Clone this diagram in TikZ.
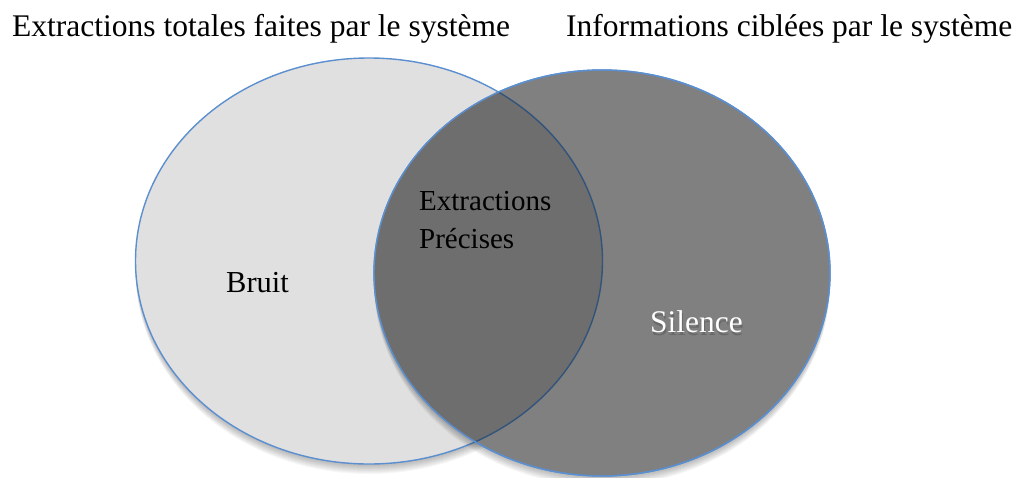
\documentclass[tikz,border=0pt]{standalone}
\usepackage{fontspec}
\setmainfont{Liberation Serif}
\usetikzlibrary{shapes.geometric, positioning}
\definecolor{cLine}{RGB}{91,143,208}
\definecolor{cLineDk}{RGB}{50,84,124}
\definecolor{cLeft}{RGB}{224,224,224}
\definecolor{cRight}{RGB}{128,128,128}
\definecolor{cBoth}{RGB}{110,110,110}

\begin{document}
\begin{tikzpicture}[x=1pt, y=-1pt,
    set/.style={ellipse, draw=cLine, line width=1.4pt, inner sep=0pt},
    lbl/.style={inner sep=0pt, anchor=base west}]
    \useasboundingbox (0,0) rectangle (1022,477);

    % --- Left set: extractions ---
    \foreach \d in {1,...,10}
        \fill[black, opacity=0.03] (369, 261+\d) ellipse [x radius=233.5pt, y radius=203pt];
    \node[set, fill=cLeft, minimum width=467pt, minimum height=406pt] (lft) at (369, 261) {};

    % --- Right set: targeted information ---
    \foreach \d in {1,...,10}
        \fill[black, opacity=0.03] (602, 273+\d) ellipse [x radius=228pt, y radius=203pt];
    \node[set, fill=cRight, minimum width=456pt, minimum height=406pt] (rgt) at (602, 273) {};

    % Overlap, darker
    \begin{scope}
        \clip (lft.center) ellipse [x radius=233.5pt, y radius=203pt];
        \fill[cBoth] (rgt.center) ellipse [x radius=228pt, y radius=203pt];
    \end{scope}
    \begin{scope}
        \clip (rgt.center) ellipse [x radius=228pt, y radius=203pt];
        \draw[cLineDk, line width=1.4pt] (lft.center) ellipse [x radius=233.5pt, y radius=203pt];
    \end{scope}
    \draw[cLine, line width=1.4pt] (rgt.center) ellipse [x radius=228pt, y radius=203pt];

    % --- Titles ---
    \node[lbl, font=\fontsize{31.5}{38}\selectfont] (ttot) at (12, 36) {Extractions totales faites par le système};
    \node[lbl, font=\fontsize{31.5}{38}\selectfont] (tcib) at (566, 36) {Informations ciblées par le système};

    % --- Region labels ---
    \node[lbl, font=\fontsize{30.5}{36}\selectfont] (bruit) at (226, 292) {Bruit};
    \node[lbl, font=\fontsize{29}{35}\selectfont] (extr) at (419, 210) {Extractions};
    \node[lbl, font=\fontsize{29}{35}\selectfont] (prec) at (419, 248) {Précises};
    \node[lbl, font=\fontsize{31.5}{37}\selectfont, black, opacity=0.18] (silsh) at (651, 335) {Silence};
    \node[lbl, font=\fontsize{31.5}{37}\selectfont, white] (sil) at (650, 332) {Silence};

\end{tikzpicture}
\end{document}
